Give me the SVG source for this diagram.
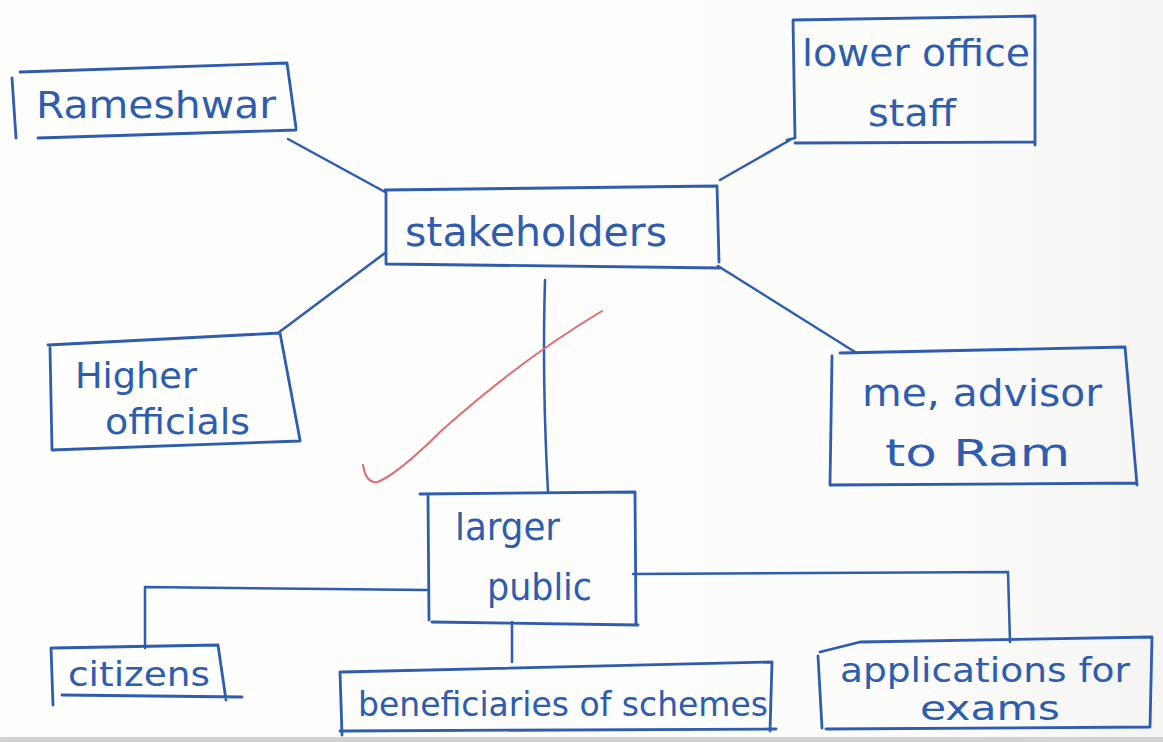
<svg xmlns="http://www.w3.org/2000/svg" width="1163" height="742" viewBox="0 0 1163 742">
  <defs>
    <linearGradient id="paper" x1="0" y1="0" x2="1" y2="0">
      <stop offset="0" stop-color="#fefefd"/>
      <stop offset="0.8" stop-color="#fcfcfa"/>
      <stop offset="1" stop-color="#f4f4f2"/>
    </linearGradient>
  </defs>
  <style>
    .box { fill: none; stroke: #2d5cb0; stroke-width: 2.8; stroke-linecap: round; stroke-linejoin: round; }
    .link { fill: none; stroke: #2d5cb0; stroke-width: 2.5; stroke-linecap: round; }
    .lbl { font-family: "DejaVu Sans", "Liberation Sans", sans-serif; fill: #2d5cb0; font-weight: normal; }
    .tick { fill: none; stroke: #e06a72; stroke-width: 2; stroke-linecap: round; }
  </style>

  <!-- paper -->
  <rect x="0" y="0" width="1163" height="742" fill="url(#paper)"/>
  <rect x="0" y="737" width="1163" height="5" fill="#d2d2d0"/>

  <!-- connectors -->
  <g id="connectors">
    <path class="link" d="M288 139 L385 192"/>
    <path class="link" d="M720 180 L790 140"/>
    <path class="link" d="M385 253 L278 333"/>
    <path class="link" d="M718 266 L855 352"/>
    <path class="link" d="M545 280 Q542 380 548 492"/>
    <path class="link" d="M427 590 L145 587 L145 648"/>
    <path class="link" d="M633 574 L1008 572 L1010 642"/>
    <path class="link" d="M512 622 L512 662"/>
  </g>

  <!-- red check mark -->
  <path class="tick" d="M363 465 Q366 484 378 482 Q400 472 440 432 Q520 360 602 311"/>

  <g id="node-rameshwar">
    <path class="box" d="M12 78 L16 138 M20 72 L287 63 L296 128 M38 138 L296 130"/>
    <text class="lbl" x="36" y="118" font-size="38" textLength="240" lengthAdjust="spacingAndGlyphs">Rameshwar</text>
  </g>

  <g id="node-lower-office-staff">
    <path class="box" d="M787 140 L795 138 L793 20 L1035 16 L1035 145 M795 143 L1035 142"/>
    <text class="lbl" x="802" y="66" font-size="38" textLength="228" lengthAdjust="spacingAndGlyphs">lower office</text>
    <text class="lbl" x="868" y="126" font-size="38" textLength="88" lengthAdjust="spacingAndGlyphs">staff</text>
  </g>

  <g id="node-stakeholders">
    <path class="box" d="M385 190 L717 186 L719 262 M386 192 L386 264 L720 268"/>
    <text class="lbl" x="405" y="246" font-size="40" textLength="262" lengthAdjust="spacingAndGlyphs">stakeholders</text>
  </g>

  <g id="node-higher-officials">
    <path class="box" d="M48 345 L280 333 L300 440 M50 348 L52 450 L300 441"/>
    <text class="lbl" x="75" y="388" font-size="36" textLength="122" lengthAdjust="spacingAndGlyphs">Higher</text>
    <text class="lbl" x="105" y="434" font-size="36" textLength="145" lengthAdjust="spacingAndGlyphs">officials</text>
  </g>

  <g id="node-advisor">
    <path class="box" d="M840 353 L1125 347 L1137 485 M832 356 L830 485 L1137 483"/>
    <text class="lbl" x="862" y="406" font-size="38" textLength="240" lengthAdjust="spacingAndGlyphs">me, advisor</text>
    <text class="lbl" x="885" y="466" font-size="38" textLength="185" lengthAdjust="spacingAndGlyphs">to Ram</text>
  </g>

  <g id="node-larger-public">
    <path class="box" d="M420 494 L635 492 L636 625 M428 496 L429 620 M432 622 L638 625"/>
    <text class="lbl" x="455" y="540" font-size="38" textLength="105" lengthAdjust="spacingAndGlyphs">larger</text>
    <text class="lbl" x="487" y="600" font-size="38" textLength="105" lengthAdjust="spacingAndGlyphs">public</text>
  </g>

  <g id="node-citizens">
    <path class="box" d="M51 648 L53 705 M53 648 L218 645 L226 700 M62 695 L242 697"/>
    <text class="lbl" x="68" y="686" font-size="34" textLength="142" lengthAdjust="spacingAndGlyphs">citizens</text>
  </g>

  <g id="node-beneficiaries">
    <path class="box" d="M340 672 L342 735 M342 672 L772 662 L770 731 M340 731 L776 729"/>
    <text class="lbl" x="358" y="716" font-size="34" textLength="410" lengthAdjust="spacingAndGlyphs">beneficiaries of schemes</text>
  </g>

  <g id="node-applications">
    <path class="box" d="M818 656 L822 728 M820 652 L860 642 L1152 637 L1150 727 L826 729"/>
    <text class="lbl" x="840" y="682" font-size="34" textLength="290" lengthAdjust="spacingAndGlyphs">applications for</text>
    <text class="lbl" x="920" y="720" font-size="34" textLength="140" lengthAdjust="spacingAndGlyphs">exams</text>
  </g>
</svg>
